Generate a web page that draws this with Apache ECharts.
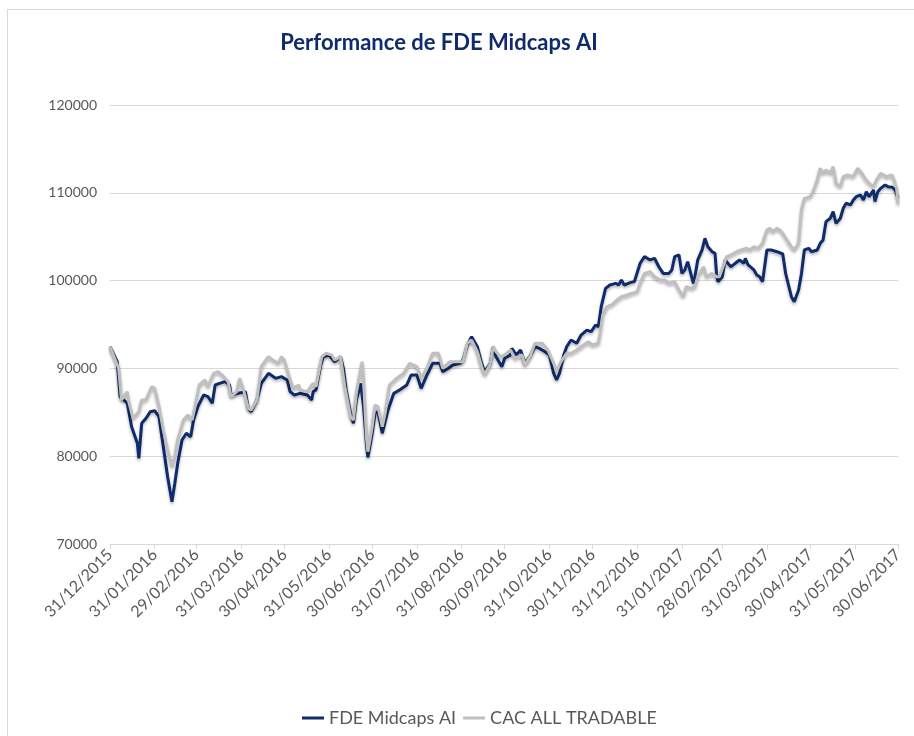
<!DOCTYPE html>
<html>
<head>
    <meta charset="utf-8">
    <script src="https://cdn.jsdelivr.net/npm/echarts@6.0.0/dist/echarts.min.js"></script>
    <style>
        * { margin: 0; padding: 0; box-sizing: border-box; }
        body { background: #fff; }
        #frame {
            position: absolute;
            left: 7px; top: 9px;
            width: 920px; height: 740px;
            border: 1px solid #d9d9d9;
        }
        #chart { position: absolute; left: 0; top: 0; width: 914px; height: 736px; }
    </style>
</head>
<body>
    <div id="frame"></div>
    <div id="chart"></div>
    <script>
        // axe des dates : fin de mois
        const monthEnds = [
            '31/12/2015', '31/01/2016', '29/02/2016', '31/03/2016', '30/04/2016',
            '31/05/2016', '30/06/2016', '31/07/2016', '31/08/2016', '30/09/2016',
            '31/10/2016', '30/11/2016', '31/12/2016', '31/01/2017', '28/02/2017',
            '31/03/2017', '30/04/2017', '31/05/2017', '30/06/2017'
        ];

        // FDE Midcaps AI : jours depuis le 31/12/2015 et valeurs
        const fdeDays = [
            0, 5, 7, 12, 15, 19, 20, 22, 25, 28, 31, 34, 37, 40, 43, 45, 47, 50, 53, 56,
            58, 61, 65, 68, 71, 73, 76, 80, 83, 84, 89, 94, 96, 98, 102, 105, 110, 115, 119, 123,
            125, 128, 132, 137, 140, 141, 143, 146, 148, 152, 154, 156, 160, 162, 164, 167, 169, 171, 174, 176,
            178, 179, 182, 184, 186, 189, 191, 193, 197, 201, 206, 209, 213, 216, 220, 224, 229, 231, 235, 238,
            243, 245, 248, 251, 255, 258, 260, 264, 266, 268, 272, 274, 278, 279, 282, 285, 288, 292, 295, 298,
            302, 305, 308, 310, 312, 315, 317, 320, 324, 327, 331, 334, 337, 339, 341, 344, 347, 351, 353, 355,
            357, 361, 364, 368, 371, 375, 378, 381, 384, 388, 390, 392, 395, 397, 399, 401, 405, 406, 408, 411,
            413, 415, 418, 420, 421, 422, 425, 427, 431, 434, 437, 440, 441, 443, 447, 449, 451, 453, 456, 459,
            463, 467, 469, 471, 473, 475, 478, 480, 482, 485, 487, 491, 493, 495, 497, 500, 502, 504, 507, 509,
            511, 514, 516, 518, 521, 523, 525, 527, 530, 531, 533, 535, 538, 540, 543, 545, 547
        ];
        const fdeValues = [
            92470, 90760, 86780, 86030, 83360, 81470, 79760, 83750, 84320, 85070, 85180, 84500, 81080, 77660, 74820, 76910, 79190, 81850, 82610, 82220,
            84120, 85640, 86970, 86780, 86030, 88110, 88300, 88490, 88110, 86970, 87160, 87350, 85450, 85070, 86400, 88300, 89440, 88870, 89060, 88680,
            87350, 86970, 87160, 86970, 86400, 87350, 87540, 90200, 91330, 91530, 91150, 90760, 91330, 90010, 87540, 84890, 83750, 86400, 88300, 85640,
            81470, 79860, 82610, 84890, 85070, 82610, 83940, 85260, 87160, 87540, 88110, 89250, 89250, 87730, 89250, 90580, 90580, 89630, 90010, 90390,
            90580, 90950, 92660, 93610, 92470, 90580, 89630, 90580, 92470, 91330, 90200, 91150, 91530, 92280, 91530, 92090, 90580, 91530, 92470, 92280,
            91900, 91530, 89440, 88680, 89440, 91530, 92470, 93230, 92860, 93800, 94370, 94180, 94940, 94750, 97030, 99120, 99500, 99690, 99500, 100070,
            99500, 99770, 99880, 101970, 102730, 102350, 102540, 101580, 100820, 100820, 101210, 102730, 102920, 100820, 101210, 102160, 99690, 100440, 102350, 103490,
            104820, 103860, 103290, 103100, 100820, 99880, 100440, 102350, 101580, 101970, 102350, 101970, 102540, 101780, 101210, 100640, 100440, 99880, 103490, 103490,
            103290, 103030, 100820, 99500, 98170, 97600, 98930, 100820, 103490, 103680, 103290, 103490, 104250, 104630, 106710, 107100, 107860, 106520, 107100, 108240,
            108810, 108620, 109180, 109560, 109750, 109180, 110130, 109560, 110320, 108990, 110130, 110510, 110890, 110700, 110630, 110320, 109400
        ];

        // CAC ALL TRADABLE : jours depuis le 31/12/2015 et valeurs
        const cacDays = [
            0, 6, 8, 12, 13, 16, 20, 22, 25, 29, 31, 34, 37, 40, 43, 45, 47, 51, 54, 57,
            59, 62, 66, 68, 72, 75, 79, 82, 84, 88, 90, 93, 96, 98, 102, 105, 110, 113, 117, 119,
            121, 124, 127, 131, 132, 137, 141, 143, 147, 150, 154, 156, 160, 163, 167, 169, 171, 175, 176, 178,
            179, 182, 184, 186, 189, 191, 194, 199, 204, 208, 213, 216, 220, 224, 228, 231, 236, 241, 245, 248,
            251, 255, 258, 260, 264, 266, 268, 271, 274, 278, 281, 286, 288, 292, 295, 300, 304, 308, 310, 313,
            317, 320, 324, 327, 332, 335, 339, 340, 342, 345, 348, 352, 355, 359, 362, 366, 368, 371, 375, 378,
            382, 385, 388, 392, 395, 398, 400, 404, 406, 408, 412, 414, 418, 421, 423, 426, 428, 431, 435, 438,
            442, 444, 447, 450, 453, 456, 458, 460, 463, 465, 467, 470, 473, 475, 478, 480, 482, 486, 488, 491,
            493, 495, 497, 500, 502, 504, 507, 509, 512, 516, 519, 522, 524, 527, 530, 532, 535, 539, 543, 545,
            546, 547
        ];
        const cacValues = [
            92470, 90010, 86400, 87350, 86210, 84320, 85070, 86400, 86400, 87920, 87730, 85640, 82990, 80710, 78810, 79950, 81850, 84120, 84690, 84120,
            85640, 88110, 88680, 87920, 89440, 89630, 89060, 88490, 86780, 87350, 88870, 87350, 85450, 85260, 86400, 90200, 91330, 90950, 90580, 91330,
            90950, 89250, 87730, 88110, 87540, 87350, 88300, 87920, 91330, 91720, 91530, 90950, 91330, 87920, 84500, 84120, 87160, 90760, 88680, 82220,
            80520, 83360, 85830, 85640, 83360, 84890, 88110, 88870, 89440, 90580, 90200, 88870, 90010, 91720, 91720, 90010, 90760, 90760, 90760, 92860,
            93230, 91900, 90200, 89250, 90580, 92470, 91900, 91330, 91530, 92090, 91150, 91530, 90390, 91530, 92860, 92860, 92090, 90580, 89630, 90760,
            91720, 91720, 92090, 92470, 93040, 92660, 92860, 93800, 96080, 97030, 97220, 97790, 98170, 98360, 98550, 98740, 99690, 100820, 101020, 100450,
            100070, 100070, 99690, 99880, 98930, 98170, 99310, 99120, 99310, 100440, 101580, 100440, 100820, 100440, 100440, 101780, 102730, 102920, 103290, 103490,
            103680, 103490, 103860, 103680, 104250, 105770, 105960, 105580, 105960, 105770, 105390, 104630, 103860, 103490, 104250, 108050, 109370, 109560, 110130, 111460,
            112790, 112220, 112600, 112220, 112980, 111080, 110700, 111840, 112030, 111840, 112790, 112220, 111650, 111080, 110700, 111460, 112220, 111840, 112030, 111080,
            110500, 108700
        ];

        const yTicks = [70000, 80000, 90000, 100000, 110000, 120000];

        // conversion dd/mm/yyyy -> jours depuis la première date
        const DAY = 86400000;
        const parseFr = s => { const p = s.split('/'); return Date.UTC(+p[2], +p[1] - 1, +p[0]); };
        const t0 = parseFr(monthEnds[0]);
        const tickDays = monthEnds.map(s => Math.round((parseFr(s) - t0) / DAY));
        const labelOf = {};
        tickDays.forEach((d, i) => { labelOf[d] = monthEnds[i]; });
        const pair = (days, vals) => days.map((d, i) => [d, vals[i]]);

        const font = 'Lato, "Liberation Sans", sans-serif';
        const shadow = { shadowColor: 'rgba(0,0,0,0.3)', shadowBlur: 3, shadowOffsetY: 2 };

        const chart = echarts.init(document.getElementById('chart'));
        chart.setOption({
            animation: false,
            title: {
                text: 'Performance de FDE Midcaps AI',
                left: 434, top: 27, textAlign: 'center',
                textStyle: { fontFamily: font, fontWeight: 'bold', fontSize: 22, color: '#0f2b6b' }
            },
            legend: {
                bottom: 4, left: 297,
                icon: 'rect', itemWidth: 22, itemHeight: 3, itemGap: 7,
                textStyle: { fontFamily: font, fontSize: 18, color: '#595959' },
                data: ['FDE Midcaps AI', 'CAC ALL TRADABLE']
            },
            grid: { left: 110, right: 16, top: 105, bottom: 192 },
            xAxis: {
                type: 'value',
                min: tickDays[0],
                max: tickDays[tickDays.length - 1],
                axisLine: { show: true, lineStyle: { color: '#d9d9d9', width: 1 } },
                axisTick: { show: true, length: 5, customValues: tickDays, lineStyle: { color: '#d9d9d9' } },
                axisLabel: {
                    customValues: tickDays, rotate: 45, margin: 8,
                    formatter: v => labelOf[v] || '',
                    fontFamily: font, fontSize: 16, color: '#595959'
                },
                splitLine: { show: false }
            },
            yAxis: {
                type: 'value',
                min: yTicks[0], max: yTicks[yTicks.length - 1], interval: 10000,
                axisLine: { show: false }, axisTick: { show: false },
                axisLabel: {
                    margin: 13, formatter: v => String(v),
                    fontFamily: font, fontSize: 14, color: '#595959'
                },
                splitLine: { lineStyle: { color: '#d9d9d9', width: 1 } }
            },
            series: [
                {
                    name: 'FDE Midcaps AI', type: 'line', showSymbol: false, symbol: 'none',
                    data: pair(fdeDays, fdeValues),
                    itemStyle: { color: '#0f2b6b' },
                    lineStyle: Object.assign({ color: '#0f2b6b', width: 3 }, shadow)
                },
                {
                    name: 'CAC ALL TRADABLE', type: 'line', showSymbol: false, symbol: 'none',
                    data: pair(cacDays, cacValues),
                    itemStyle: { color: '#bfbfbf' },
                    lineStyle: Object.assign({ color: '#bfbfbf', width: 3 }, shadow)
                }
            ]
        });
    </script>
</body>
</html>
